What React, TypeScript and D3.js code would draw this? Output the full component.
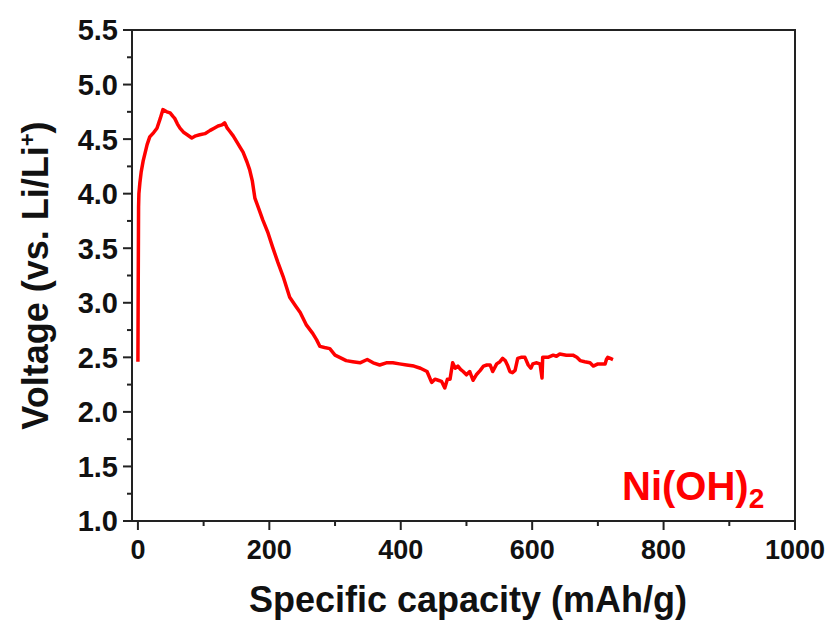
import React from "react";
import * as d3 from "d3";

const capacity = [0, 0.5, 1, 1.5, 3, 5, 8, 14, 18, 24, 29, 34, 38, 44, 49, 53, 56, 60, 64, 70, 75, 82, 88, 94, 102, 110, 116, 122, 128, 132, 136, 140, 145, 151, 156, 160, 166, 170, 174, 178, 184, 190, 198, 205, 213, 221, 231, 240, 247, 256, 266, 272, 277, 284, 292, 300, 307, 317, 327, 338, 349, 358, 368, 378, 388, 398, 409, 420, 430, 440, 447, 452, 457, 462, 467, 471, 475, 479, 483, 487, 491, 495, 500, 505, 510, 515, 521, 526, 531, 536, 540, 546, 551, 555, 559, 563, 566, 570, 574, 578, 583, 589, 594, 598, 601, 606, 612, 615, 616, 624, 632, 637, 642, 652, 662, 668, 673, 680, 688, 693, 700, 706, 711, 713, 715, 719, 723];
const voltage = [2.46, 3.2, 3.88, 4.0, 4.1, 4.2, 4.3, 4.45, 4.52, 4.56, 4.6, 4.69, 4.77, 4.75, 4.74, 4.71, 4.69, 4.64, 4.6, 4.56, 4.54, 4.51, 4.53, 4.54, 4.55, 4.58, 4.6, 4.62, 4.63, 4.65, 4.6, 4.57, 4.53, 4.47, 4.42, 4.38, 4.29, 4.22, 4.12, 3.96, 3.86, 3.76, 3.64, 3.51, 3.37, 3.24, 3.05, 2.97, 2.91, 2.8, 2.72, 2.66, 2.6, 2.59, 2.58, 2.52, 2.5, 2.47, 2.46, 2.45, 2.48, 2.45, 2.43, 2.45, 2.45, 2.44, 2.43, 2.42, 2.4, 2.37, 2.27, 2.3, 2.29, 2.28, 2.22, 2.3, 2.3, 2.45, 2.4, 2.42, 2.39, 2.37, 2.34, 2.37, 2.29, 2.34, 2.38, 2.42, 2.43, 2.43, 2.37, 2.44, 2.46, 2.49, 2.47, 2.42, 2.37, 2.36, 2.38, 2.49, 2.5, 2.5, 2.43, 2.4, 2.44, 2.45, 2.44, 2.31, 2.5, 2.5, 2.52, 2.51, 2.53, 2.52, 2.52, 2.5, 2.47, 2.46, 2.45, 2.42, 2.44, 2.44, 2.44, 2.48, 2.5, 2.49, 2.48];

const xTicks = [0, 200, 400, 600, 800, 1000];
const xMinor = [100, 300, 500, 700, 900];
const yTicks = [1.0, 1.5, 2.0, 2.5, 3.0, 3.5, 4.0, 4.5, 5.0, 5.5];
const yMinor = [1.25, 1.75, 2.25, 2.75, 3.25, 3.75, 4.25, 4.75, 5.25];

const W = 833, H = 624;
const left = 132, right = 795, top = 30, bottom = 521;

export default function App() {
  const x = d3.scaleLinear().domain([-9, 1000]).range([left, right]);
  const y = d3.scaleLinear().domain([1, 5.5]).range([bottom, top]);
  const pts = capacity.map((c, i) => [c, voltage[i]] as [number, number]);
  const line = d3.line<[number, number]>().x(d => x(d[0])).y(d => y(d[1]));
  const font = "'Liberation Sans', Arial, sans-serif";
  return (
    <svg width={W} height={H} style={{ position: "absolute", left: 0, top: 0 }}>
      <rect width={W} height={H} fill="white" />
      <path d={line(pts) || ""} fill="none" stroke="#ff0000" strokeWidth={3.5} strokeLinejoin="round" />
      <rect x={left} y={top} width={right - left} height={bottom - top} fill="none" stroke="#222" strokeWidth={2} />
      {yTicks.map(t => (
        <g key={"y" + t}>
          <line x1={left - 9} x2={left} y1={y(t)} y2={y(t)} stroke="#222" strokeWidth={2} />
          <text x={left - 14} y={y(t)} dy="0.36em" textAnchor="end" fontFamily={font} fontWeight="bold" fontSize={29} fill="#111">{t.toFixed(1)}</text>
        </g>
      ))}
      {yMinor.map(t => (
        <line key={"ym" + t} x1={left - 5} x2={left} y1={y(t)} y2={y(t)} stroke="#222" strokeWidth={2} />
      ))}
      {xTicks.map(t => (
        <g key={"x" + t}>
          <line x1={x(t)} x2={x(t)} y1={bottom} y2={bottom + 9} stroke="#222" strokeWidth={2} />
          <text x={x(t)} y={bottom + 38} textAnchor="middle" fontFamily={font} fontWeight="bold" fontSize={27} fill="#111">{t}</text>
        </g>
      ))}
      {xMinor.map(t => (
        <line key={"xm" + t} x1={x(t)} x2={x(t)} y1={bottom} y2={bottom + 5} stroke="#222" strokeWidth={2} />
      ))}
      <text x={468} y={612} textAnchor="middle" fontFamily={font} fontWeight="bold" fontSize={36} fill="#111">Specific capacity (mAh/g)</text>
      <text transform={`translate(48, ${(top + bottom) / 2}) rotate(-90)`} textAnchor="middle" fontFamily={font} fontWeight="bold" fontSize={36} fill="#111">
        Voltage (vs. Li/Li<tspan dy="-13" fontSize={22}>+</tspan><tspan dy="13">)</tspan>
      </text>
      <text x={622} y={500} fontFamily={font} fontWeight="bold" fontSize={40} fill="#ff0000">
        Ni(OH)<tspan dy="8" fontSize={28}>2</tspan>
      </text>
    </svg>
  );
}
